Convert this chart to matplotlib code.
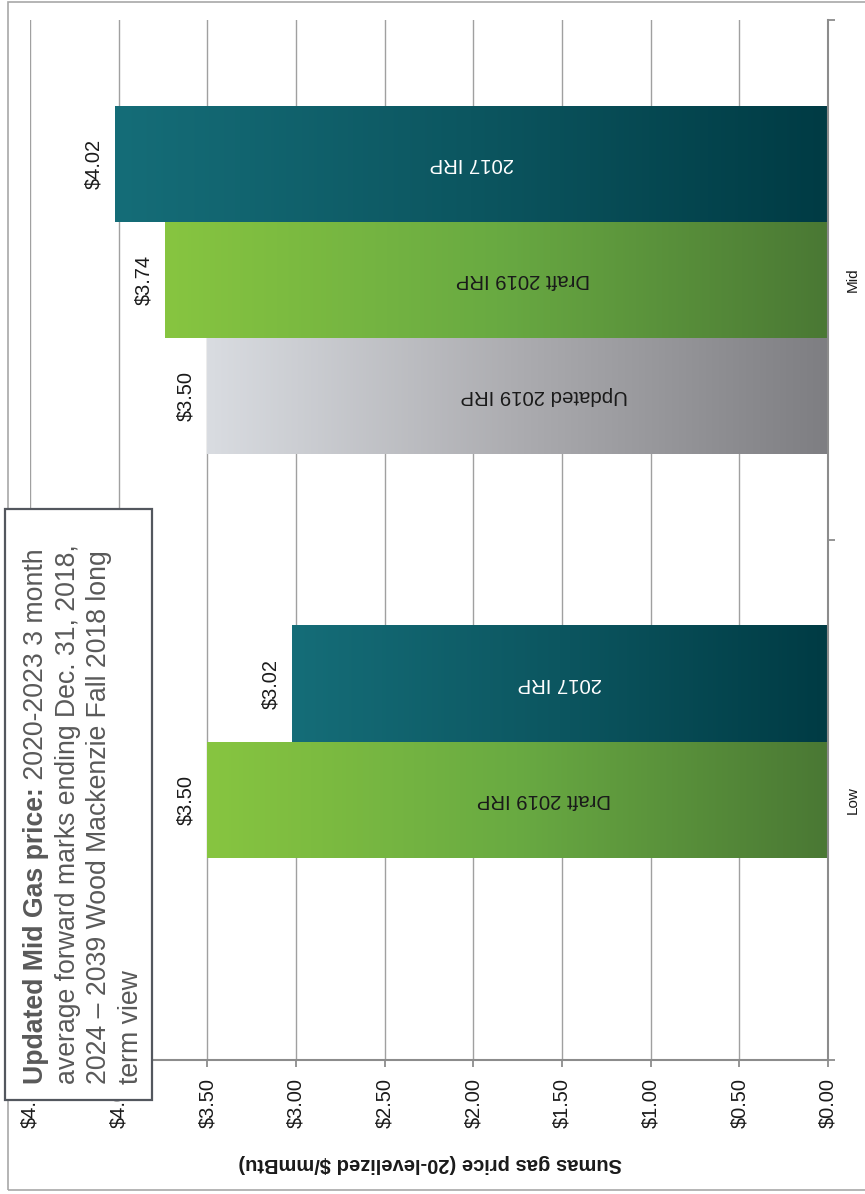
import numpy as np
import matplotlib
matplotlib.use("Agg")
import matplotlib.pyplot as plt
from matplotlib.colors import LinearSegmentedColormap
from matplotlib.patches import Rectangle

plt.rcParams['font.family'] = ['Liberation Sans', 'DejaVu Sans']

# DATA
categories = ['Low', 'Mid']
series = ['Updated 2019 IRP', 'Draft 2019 IRP', '2017 IRP']
updated_2019 = [np.nan, 3.50]
draft_2019 = [3.50, 3.74]
irp_2017 = [3.02, 4.02]
value_ticks = [0.0, 0.5, 1.0, 1.5, 2.0, 2.5, 3.0, 3.5, 4.0, 4.5]

# STYLE
W, H = 865, 1194
gradients = {
    'Updated 2019 IRP': ['#7e7e82', '#acacb0', '#d9dce1'],
    'Draft 2019 IRP': ['#4a7834', '#69aa42', '#87c540'],
    '2017 IRP': ['#003b44', '#0c5660', '#156d78'],
}
label_colors = {'Updated 2019 IRP': '#1a1a1a', 'Draft 2019 IRP': '#1a1a1a', '2017 IRP': 'white'}
label_shift = {'Updated 2019 IRP': -0.15, 'Draft 2019 IRP': -0.15, '2017 IRP': 0.0}
bar_h = 116 / 520
axis_gray = '#8c8c8c'


def px(x, y):
    return x / W, 1 - y / H


fig = plt.figure(figsize=(W / 100, H / 100), dpi=100)
ax = fig.add_axes([30 / W, 1 - 1060 / H, 798 / W, 1040 / H])

all_series = [updated_2019, draft_2019, irp_2017]
for k, (name, vals) in enumerate(zip(series, all_series)):
    cmap = LinearSegmentedColormap.from_list(name, gradients[name])
    grad = cmap(np.linspace(0, 1, 256))[None, :, :3]
    for i, v in enumerate(vals):
        if np.isnan(v):
            continue
        yc = i + 0.5 + (k - 1) * bar_h
        ax.imshow(grad, extent=(0, v, yc - bar_h / 2, yc + bar_h / 2),
                  aspect='auto', interpolation='bilinear', zorder=2)
        ax.text(v / 2 + label_shift[name], yc, name, rotation=180,
                ha='center', va='center', fontsize=14.7,
                color=label_colors[name], zorder=3)
        ax.text(v + 0.12, yc, f"${v:.2f}", rotation=90,
                ha='center', va='center', fontsize=14.4,
                color='#1a1a1a', zorder=3)

ax.set_xlim(4.5, 0)
ax.set_ylim(0, 2)
ax.set_xticks(value_ticks)
ax.set_xticklabels([f"${t:.2f}" for t in value_ticks], rotation=90,
                   fontsize=14.4, color='#1a1a1a')
ax.grid(axis='x', color='#a0a0a0', linewidth=1.0)
ax.set_axisbelow(True)

ax.yaxis.tick_right()
ax.set_yticks([0, 1, 2])
ax.set_yticklabels([])
ax.set_yticks([0.5, 1.5], minor=True)
ax.set_yticklabels(categories, minor=True, rotation=90, fontsize=11,
                   color='#1a1a1a', va='center')
ax.tick_params(axis='y', which='major', length=5, color=axis_gray, width=1.3)
ax.tick_params(axis='y', which='minor', length=0, pad=13)
ax.tick_params(axis='x', length=5, color=axis_gray, width=1.3, pad=8)

for side in ['top', 'left']:
    ax.spines[side].set_visible(False)
for side in ['right', 'bottom']:
    ax.spines[side].set_color(axis_gray)
    ax.spines[side].set_linewidth(1.5)

# axis title (upside down)
fig.text(*px(430, 1164), 'Sumas gas price (20-levelized $/mmBtu)', rotation=180,
         ha='center', va='center', fontsize=14.5, fontweight='bold', color='#1a1a1a')

# outer frame
x0, y0 = px(8, 1190)
x1, y1 = px(870, 2)
fig.add_artist(Rectangle((x0, y0), x1 - x0, y1 - y0, transform=fig.transFigure,
                         facecolor='none', edgecolor='#a8a8a8', linewidth=1.2))

# note box
bx0, by0 = px(5, 1100)
bx1, by1 = px(152, 509)
fig.add_artist(Rectangle((bx0, by0), bx1 - bx0, by1 - by0, transform=fig.transFigure,
                         facecolor='white', edgecolor='#53575e', linewidth=1.6, zorder=4))

note_color = '#595959'
note_size = 19.2
y_start = 1084
base_x = [43, 75, 106, 138]
lines = ['average forward marks ending Dec. 31, 2018,',
         '2024 \u2013 2039 Wood Mackenzie Fall 2018 long',
         'term view']

bold = fig.text(*px(base_x[0], y_start), 'Updated Mid Gas price:', rotation=90,
                rotation_mode='anchor', ha='left', va='baseline', fontsize=note_size,
                fontweight='bold', color=note_color, zorder=5)
renderer = fig.canvas.get_renderer()
bold_len = bold.get_window_extent(renderer).height
fig.text(*px(base_x[0], y_start - bold_len), ' 2020-2023 3 month', rotation=90,
         rotation_mode='anchor', ha='left', va='baseline', fontsize=note_size,
         color=note_color, zorder=5)
for bx, line in zip(base_x[1:], lines):
    fig.text(*px(bx, y_start), line, rotation=90, rotation_mode='anchor',
             ha='left', va='baseline', fontsize=note_size, color=note_color, zorder=5)

fig.savefig('out.png', dpi=100)
